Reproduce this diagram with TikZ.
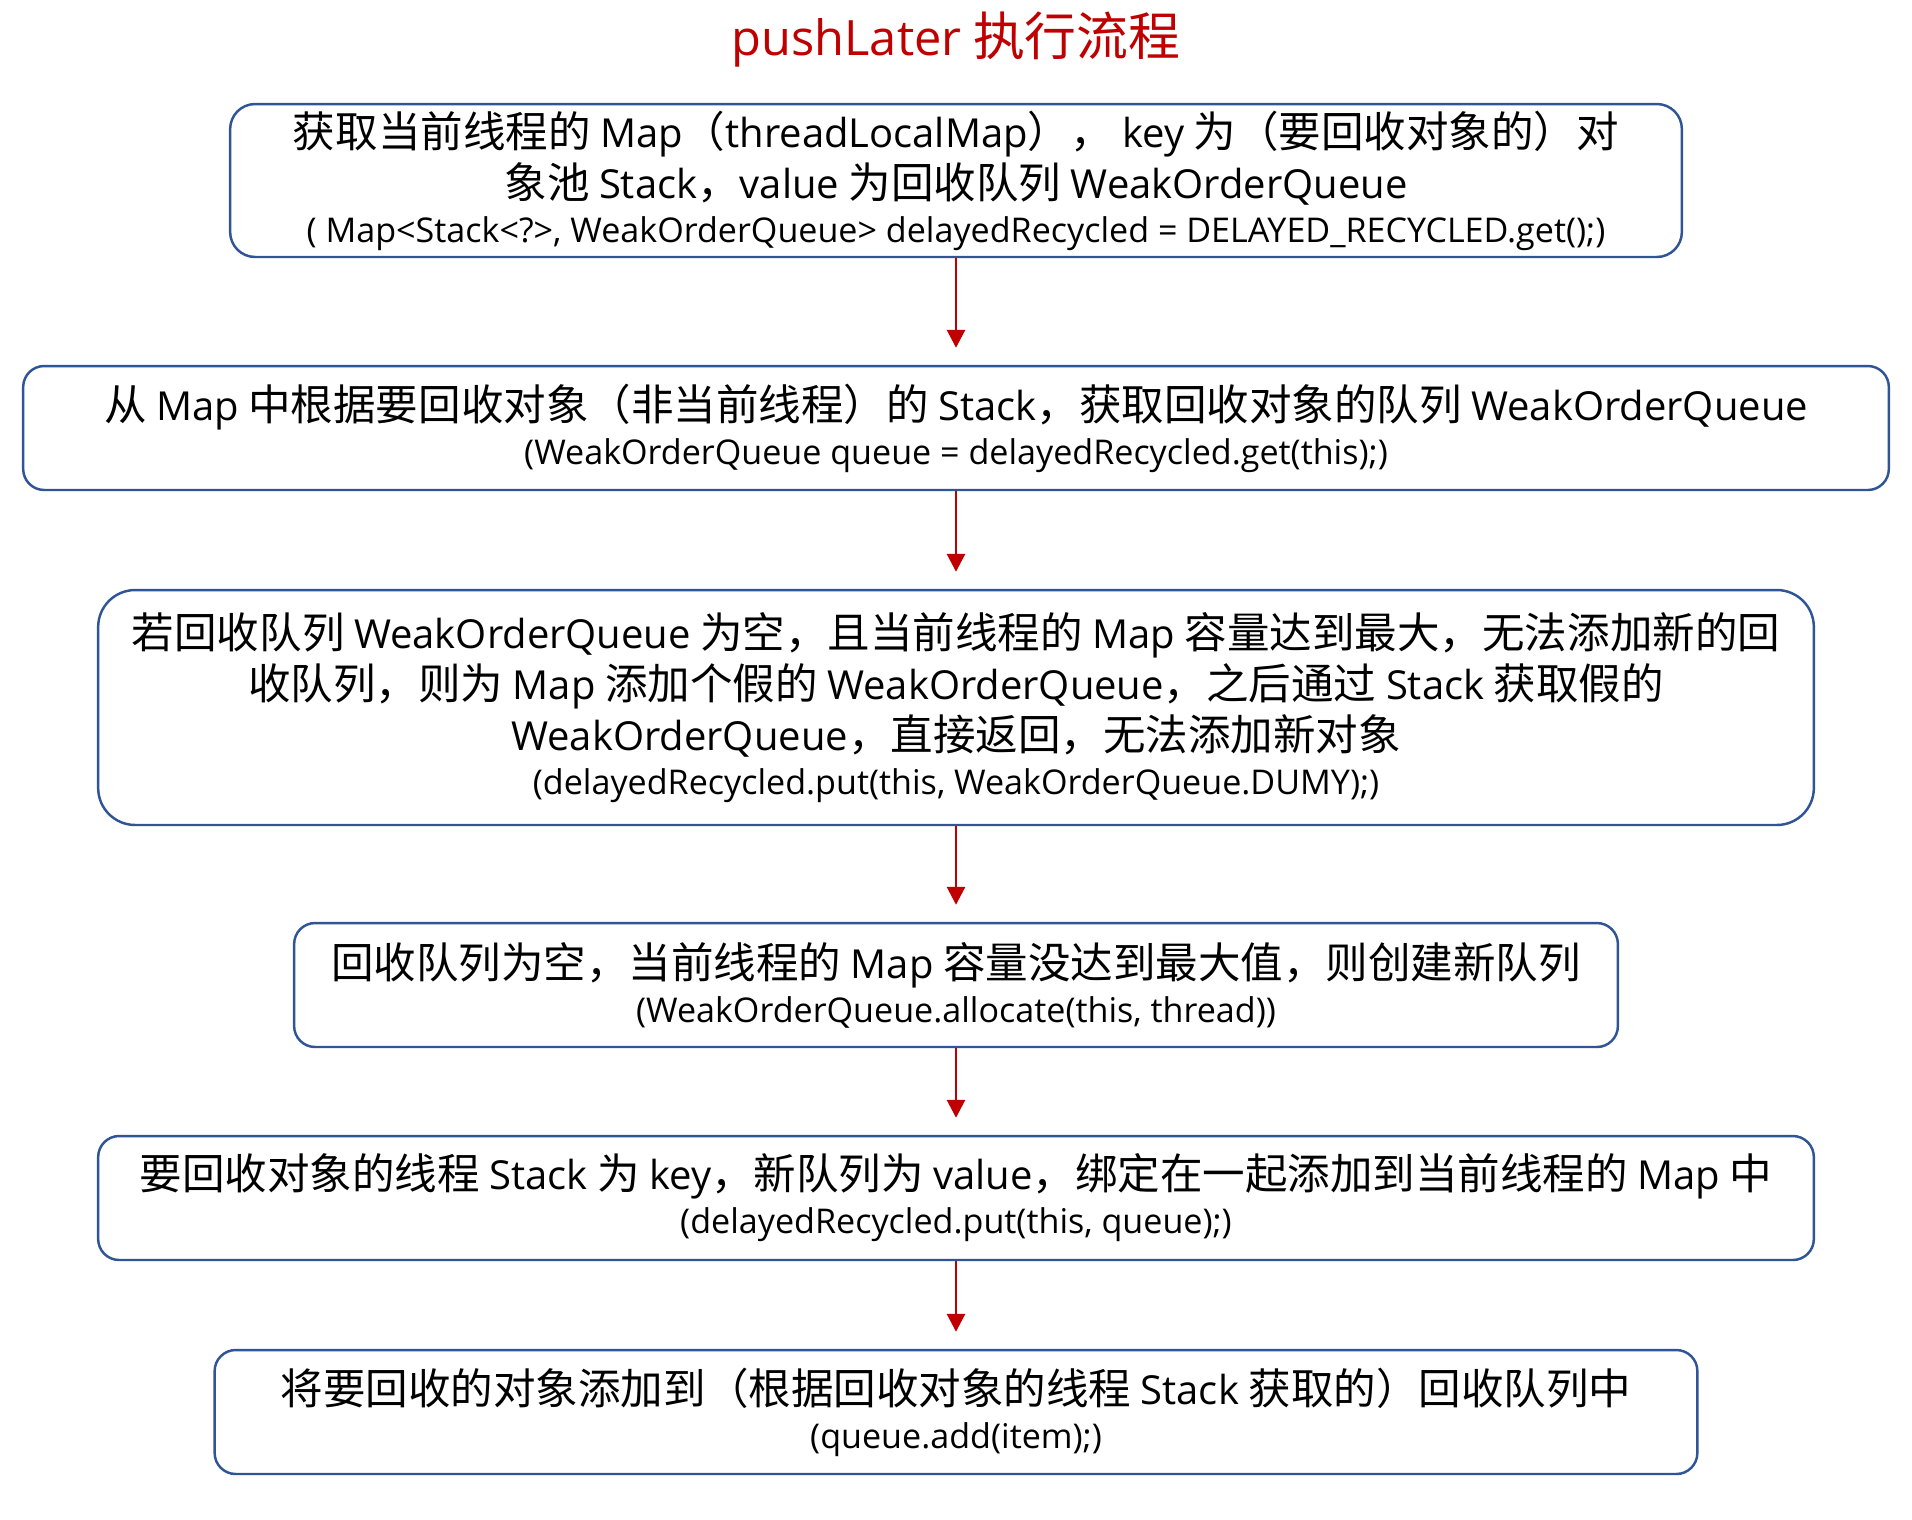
\documentclass[tikz,border=0pt]{standalone}
\usepackage{fontspec}
\setmainfont{Noto Sans CJK SC}
\newfontfamily\latfont[Scale=0.94]{Open Sans}
\newfontfamily\codefont{Open Sans}
\newcommand{\latn}[1]{{\latfont #1}}
\newcommand{\mainsize}{\fontsize{24.2}{29}\selectfont}
\newcommand{\codesize}{\fontsize{19.4}{27}\selectfont\codefont}
\usetikzlibrary{arrows.meta}
\definecolor{boxblue}{RGB}{47,85,151}
\definecolor{flowred}{RGB}{192,0,0}

\begin{document}
\begin{tikzpicture}[x=0.02cm, y=-0.02cm,
    flowbox/.style={draw=boxblue, line width=1.4pt, rounded corners=0.42cm,
        align=center, inner sep=0pt, font=\mainsize},
    flowarrow/.style={draw=flowred, line width=1.6pt,
        -{Triangle[width=0.36cm,length=0.36cm]}}]
    \useasboundingbox (0,0) rectangle (1912,1519);
    % Title
    \node[text=flowred, font=\fontsize{29.5}{34}\selectfont] (title) at (956,40)
        {\latn{pushLater} 执行流程};
    % Get the map of the current thread
    \node[flowbox, rounded corners=0.5cm, minimum width=29.04cm, minimum height=3.06cm]
        (getMap) at (956,180.5)
        {获取当前线程的 \latn{Map}（\latn{threadLocalMap}）， \latn{key} 为（要回收对象的）对\\
         象池 \latn{Stack}，\latn{value} 为回收队列 \latn{WeakOrderQueue}\\[-4pt]
         {\codesize ( Map<Stack<?>, WeakOrderQueue> delayedRecycled = DELAYED\_RECYCLED.get();)}};
    % Look up the queue of the stack
    \node[flowbox, minimum width=37.32cm, minimum height=2.48cm]
        (getQueue) at (956,428)
        {从 \latn{Map} 中根据要回收对象（非当前线程）的 \latn{Stack}，获取回收对象的队列 \latn{WeakOrderQueue}\\[-4pt]
         {\codesize (WeakOrderQueue queue = delayedRecycled.get(this);)}};
    % Map is full: put a dummy queue
    \node[flowbox, rounded corners=0.74cm, minimum width=34.32cm, minimum height=4.7cm]
        (putDummy) at (956,707.5)
        {若回收队列 \latn{WeakOrderQueue} 为空，且当前线程的 \latn{Map} 容量达到最大，无法添加新的回\\
         收队列，则为 \latn{Map} 添加个假的 \latn{WeakOrderQueue}，之后通过 \latn{Stack} 获取假的\\
         \latn{WeakOrderQueue}，直接返回，无法添加新对象\\[-4pt]
         {\codesize (delayedRecycled.put(this, WeakOrderQueue.DUMY);)}};
    % Map not full: create a new queue
    \node[flowbox, minimum width=26.48cm, minimum height=2.48cm]
        (newQueue) at (956,985)
        {回收队列为空，当前线程的 \latn{Map} 容量没达到最大值，则创建新队列\\[-4pt]
         {\codesize (WeakOrderQueue.allocate(this, thread))}};
    % Bind stack and queue into the map
    \node[flowbox, minimum width=34.32cm, minimum height=2.48cm]
        (putQueue) at (956,1198)
        {要回收对象的线程 \latn{Stack} 为 \latn{key}，新队列为 \latn{value}，绑定在一起添加到当前线程的 \latn{Map} 中\\[-4pt]
         {\codesize (delayedRecycled.put(this, queue);)}};
    % Add the item to the queue
    \node[flowbox, minimum width=29.66cm, minimum height=2.48cm]
        (addItem) at (956,1412)
        {将要回收的对象添加到（根据回收对象的线程 \latn{Stack} 获取的）回收队列中\\[-4pt]
         {\codesize (queue.add(item);)}};
    % Arrows between the steps
    \draw[flowarrow] (getMap.south) -- ([yshift=0.34cm]getQueue.north);
    \draw[flowarrow] (getQueue.south) -- ([yshift=0.34cm]putDummy.north);
    \draw[flowarrow] (putDummy.south) -- ([yshift=0.34cm]newQueue.north);
    \draw[flowarrow] (newQueue.south) -- ([yshift=0.34cm]putQueue.north);
    \draw[flowarrow] (putQueue.south) -- ([yshift=0.34cm]addItem.north);
\end{tikzpicture}
\end{document}
